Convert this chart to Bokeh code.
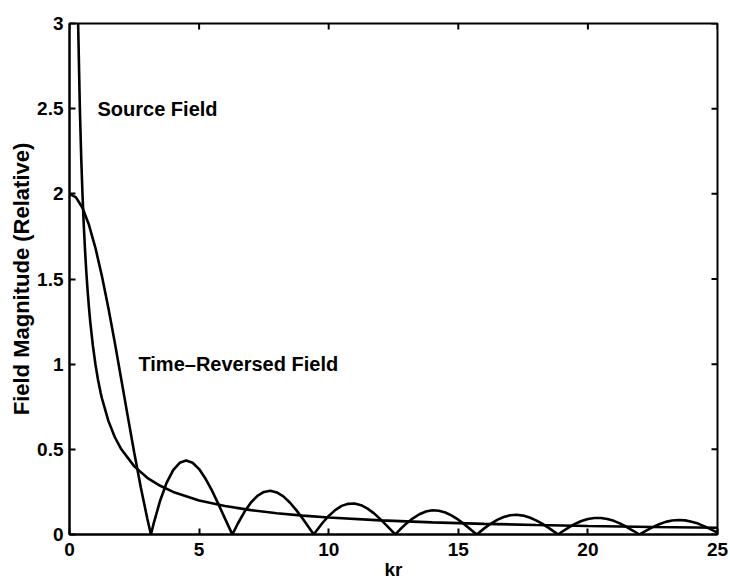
from bokeh.plotting import figure
from bokeh.models import FixedTicker, NumeralTickFormatter, Range1d
from bokeh.core.properties import value
from bokeh.embed import file_html
from bokeh.resources import INLINE

# Time-reversed field
kr_rev = [0, 0.25, 0.5, 0.75, 1, 1.25, 1.5, 1.75, 2, 2.25, 2.5, 2.75, 3, 3.1416,
          3.25, 3.5, 3.75, 4, 4.25, 4.5, 4.75, 5, 5.25, 5.5, 5.75, 6, 6.25, 6.2832,
          6.5, 6.75, 7, 7.25, 7.5, 7.75, 8, 8.25, 8.5, 8.75, 9, 9.25, 9.4248,
          9.5, 9.75, 10, 10.25, 10.5, 10.75, 11, 11.25, 11.5, 11.75, 12, 12.25, 12.5, 12.5664,
          12.75, 13, 13.25, 13.5, 13.75, 14, 14.25, 14.5, 14.75, 15, 15.25, 15.5, 15.708,
          15.75, 16, 16.25, 16.5, 16.75, 17, 17.25, 17.5, 17.75, 18, 18.25, 18.5, 18.75, 18.8496,
          19, 19.25, 19.5, 19.75, 20, 20.25, 20.5, 20.75, 21, 21.25, 21.5, 21.75, 21.9912,
          22, 22.25, 22.5, 22.75, 23, 23.25, 23.5, 23.75, 24, 24.25, 24.5, 24.75, 25]
field_rev = [2.000, 1.979, 1.918, 1.818, 1.683, 1.518, 1.330, 1.125, 0.909, 0.692, 0.479, 0.278, 0.094, 0.0,
             0.067, 0.200, 0.305, 0.378, 0.421, 0.434, 0.421, 0.384, 0.327, 0.257, 0.177, 0.093, 0.011, 0.0,
             0.066, 0.133, 0.188, 0.227, 0.250, 0.257, 0.247, 0.224, 0.188, 0.143, 0.092, 0.038, 0.0,
             0.016, 0.066, 0.109, 0.143, 0.168, 0.180, 0.182, 0.172, 0.152, 0.124, 0.089, 0.051, 0.011, 0.0,
             0.029, 0.065, 0.095, 0.119, 0.135, 0.142, 0.139, 0.129, 0.111, 0.087, 0.058, 0.027, 0.0,
             0.005, 0.036, 0.063, 0.086, 0.103, 0.113, 0.116, 0.111, 0.100, 0.083, 0.062, 0.037, 0.011, 0.0,
             0.016, 0.040, 0.062, 0.079, 0.091, 0.097, 0.097, 0.091, 0.080, 0.064, 0.044, 0.022, 0.0,
             0.001, 0.023, 0.043, 0.060, 0.074, 0.082, 0.085, 0.083, 0.075, 0.064, 0.048, 0.030, 0.011]

# Source field
kr_src = [0.333, 0.4, 0.45, 0.5, 0.55, 0.6, 0.65, 0.7, 0.75, 0.8, 0.9, 1.0, 1.1, 1.2, 1.25, 1.5,
          1.75, 2, 2.5, 3, 3.5, 4, 5, 6, 7, 8, 9, 10, 12, 14, 16, 18, 20, 22.5, 25]
field_src = [3.0, 2.5, 2.222, 2.0, 1.818, 1.667, 1.538, 1.429, 1.333, 1.25, 1.111, 1.0, 0.909, 0.833, 0.8, 0.667,
             0.571, 0.5, 0.4, 0.333, 0.286, 0.25, 0.2, 0.167, 0.143, 0.125, 0.111, 0.1, 0.083, 0.071, 0.0625, 0.056, 0.05, 0.044, 0.04]

x_ticks = [0, 5, 10, 15, 20, 25]
y_ticks = [0, 0.5, 1, 1.5, 2, 2.5, 3]

labels = ["Source Field", "Time\u2013Reversed Field"]
label_x = [1.08, 2.66]
label_y = [2.5, 1.0]

FONT = "Liberation Sans"
X0, X1, Y0, Y1 = 0, 25, 0, 3
FRAME_W, FRAME_H = 648, 514
TICK = 6  # inward tick length, px

p = figure(width=730, height=582, output_backend="svg", toolbar_location=None,
           x_range=Range1d(X0, X1), y_range=Range1d(Y0, Y1),
           min_border_left=69, min_border_right=13, min_border_top=23, min_border_bottom=45,
           x_axis_label="kr", y_axis_label="Field Magnitude (Relative)")
p.background_fill_color = "white"
p.border_fill_color = "white"
p.outline_line_color = "black"
p.outline_line_width = 2
p.grid.visible = False

p.line(kr_rev, field_rev, line_color="black", line_width=2.6)
p.line(kr_src, field_src, line_color="black", line_width=2.6)

# inward ticks on the top and right edges of the box
dy = TICK * (Y1 - Y0) / FRAME_H
dx = TICK * (X1 - X0) / FRAME_W
p.segment(x0=x_ticks, y0=[Y1] * len(x_ticks), x1=x_ticks, y1=[Y1 - dy] * len(x_ticks),
          line_color="black", line_width=2)
p.segment(x0=[X1] * len(y_ticks), y0=y_ticks, x1=[X1 - dx] * len(y_ticks), y1=y_ticks,
          line_color="black", line_width=2)

p.text(x=label_x, y=label_y, text=labels, text_font=value(FONT), text_font_style="bold",
       text_font_size="20px", text_align="left", text_baseline="middle", text_color="black")

for ax, ticks in ((p.xaxis[0], x_ticks), (p.yaxis[0], y_ticks)):
    ax.ticker = FixedTicker(ticks=ticks)
    ax.formatter = NumeralTickFormatter(format="0.[0]")
    ax.axis_line_width = 2
    ax.axis_line_color = "black"
    ax.major_tick_in = TICK
    ax.major_tick_out = 0
    ax.major_tick_line_width = 2
    ax.minor_tick_line_color = None
    ax.major_label_text_font = FONT
    ax.major_label_text_font_style = "bold"
    ax.major_label_text_color = "black"
    ax.major_label_text_font_size = "19px"
    ax.axis_label_text_font = FONT
    ax.axis_label_text_font_style = "bold"
    ax.axis_label_text_color = "black"

p.xaxis[0].major_label_standoff = 8
p.yaxis[0].major_label_standoff = 6
p.xaxis[0].axis_label_text_font_size = "19px"
p.yaxis[0].axis_label_text_font_size = "22px"
p.xaxis[0].axis_label_standoff = 0
p.yaxis[0].axis_label_standoff = 0

open("out.html", "w").write(file_html(p, INLINE))
